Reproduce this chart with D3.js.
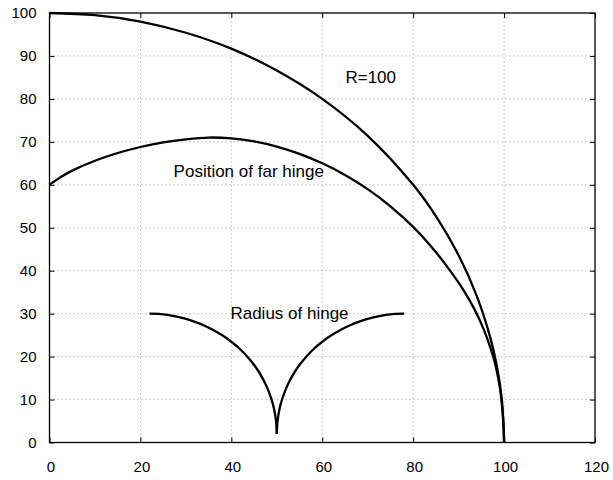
<!DOCTYPE html>
<html>
<head>
<meta charset="utf-8">
<script src="https://cdn.jsdelivr.net/npm/d3@7"></script>
<style>
  body { margin: 0; background: #fff; }
  svg { display: block; font-family: "Liberation Sans", Arial, sans-serif; }
  .tick-label { font-size: 15px; fill: #000; }
  .note { font-size: 17px; fill: #000; }
  .grid line { stroke: #9a9a9a; stroke-width: 1; stroke-dasharray: 1,3; }
  .curve { fill: none; stroke: #000; stroke-width: 2.3; stroke-linejoin: round; }
</style>
</head>
<body>
<div id="chart"></div>
<script>
var width = 613, height = 480
var margin = {left: 49.5, right: 18, top: 13, bottom: 37.5}

var xTicks = [0, 20, 40, 60, 80, 100, 120]
var yTicks = [0, 10, 20, 30, 40, 50, 60, 70, 80, 90, 100]

// outer circle, R=100
var circleX = [0, 10, 20, 30, 40, 50, 60, 70, 80, 85, 90, 94, 97, 98.5, 99.5, 100]
var circleY = [100, 99.5, 98.0, 95.4, 91.7, 86.6, 80.0, 71.4, 60.0, 52.7, 43.6, 34.1, 24.3, 17.3, 10.0, 0]

// position of far hinge
var farX = [0, 2.5, 5, 10, 15, 20, 25, 30, 35, 40, 45, 50, 55, 60, 65, 70, 75, 80, 84, 88, 91, 93.5, 95.5, 97, 98.2, 99.1, 99.6, 99.9, 100]
var farY = [60, 61.8, 63.3, 65.6, 67.4, 68.8, 69.9, 70.6, 71.0, 70.8, 70.1, 68.9, 67.2, 65.0, 62.3, 59.0, 55.0, 50.2, 45.6, 40.2, 35.6, 31.0, 26.4, 22.0, 17.6, 12.6, 8.0, 3.8, 0]

// radius of hinge, two arcs meeting at x=50
var hingeLeftX = [22, 24, 26, 28, 30, 32, 34, 36, 38, 40, 42, 44, 45.5, 46.8, 47.8, 48.6, 49.2, 49.6, 49.85, 50]
var hingeLeftY = [30, 29.93, 29.7, 29.3, 28.8, 28.1, 27.25, 26.2, 24.95, 23.45, 21.65, 19.4, 17.35, 15.1, 12.95, 10.8, 8.7, 6.7, 4.8, 2.0]
var hingeRightX = [50, 50.15, 50.4, 50.8, 51.4, 52.2, 53.2, 54.5, 56, 58, 60, 62, 64, 66, 68, 70, 72, 74, 76, 78]
var hingeRightY = [2.0, 4.8, 6.7, 8.7, 10.8, 12.95, 15.1, 17.35, 19.4, 21.65, 23.45, 24.95, 26.2, 27.25, 28.1, 28.8, 29.3, 29.7, 29.93, 30]

var notes = [
    {text: "R=100", x: 65.1, y: 83.6},
    {text: "Position of far hinge", x: 27.3, y: 61.7},
    {text: "Radius of hinge", x: 39.8, y: 28.8}
]

var svg = d3.select("#chart")
    .append("svg")
    .attr("width", width)
    .attr("height", height)

var xScale = d3.scaleLinear()
    .domain([0, 120])
    .range([margin.left, width - margin.right])
var yScale = d3.scaleLinear()
    .domain([0, 100])
    .range([height - margin.bottom, margin.top])

var x0 = xScale.range()[0], x1 = xScale.range()[1]
var y0 = yScale.range()[0], y1 = yScale.range()[1]

// dotted grid
var grid = svg.append("g").attr("class", "grid")
grid.selectAll(".gx")
    .data(xTicks.filter(d => d > 0 && d < 120))
    .enter()
    .append("line")
        .attr("x1", d => xScale(d)).attr("x2", d => xScale(d))
        .attr("y1", y0).attr("y2", y1)
grid.selectAll(".gy")
    .data(yTicks.filter(d => d > 0 && d < 100))
    .enter()
    .append("line")
        .attr("x1", x0).attr("x2", x1)
        .attr("y1", d => yScale(d)).attr("y2", d => yScale(d))

// axes with inner ticks on all four sides
var tickLen = 5
svg.append("g")
    .attr("transform", "translate(0," + y0 + ")")
    .call(d3.axisTop(xScale).tickValues(xTicks).tickSize(tickLen).tickFormat(""))
svg.append("g")
    .attr("transform", "translate(0," + y1 + ")")
    .call(d3.axisBottom(xScale).tickValues(xTicks).tickSize(tickLen).tickFormat(""))
svg.append("g")
    .attr("transform", "translate(" + x0 + ",0)")
    .call(d3.axisRight(yScale).tickValues(yTicks).tickSize(tickLen).tickFormat(""))
svg.append("g")
    .attr("transform", "translate(" + x1 + ",0)")
    .call(d3.axisLeft(yScale).tickValues(yTicks).tickSize(tickLen).tickFormat(""))
svg.selectAll(".domain").remove()
svg.selectAll(".tick line").attr("stroke", "#000").attr("stroke-width", 1)

svg.append("rect")
    .attr("x", x0).attr("y", y1)
    .attr("width", x1 - x0).attr("height", y0 - y1)
    .attr("fill", "none")
    .attr("stroke", "#000")
    .attr("stroke-width", 1.3)

// tick labels
svg.selectAll(".xl")
    .data(xTicks)
    .enter()
    .append("text")
        .attr("class", "tick-label")
        .attr("x", d => xScale(d) + 1.5)
        .attr("y", y0 + 29)
        .attr("text-anchor", "middle")
        .text(d => d)
svg.selectAll(".yl")
    .data(yTicks)
    .enter()
    .append("text")
        .attr("class", "tick-label")
        .attr("x", x0 - 13)
        .attr("y", d => yScale(d) + 5)
        .attr("text-anchor", "end")
        .text(d => d)

// curves
var line = d3.line()
    .x(d => xScale(d[0]))
    .y(d => yScale(d[1]))
    .curve(d3.curveCatmullRom.alpha(0.5))

function pairs(xs, ys) { return xs.map((x, i) => [x, ys[i]]) }

svg.append("path").attr("class", "curve").attr("d", line(pairs(circleX, circleY)))
svg.append("path").attr("class", "curve").attr("d", line(pairs(farX, farY)))
svg.append("path").attr("class", "curve").attr("d", line(pairs(hingeLeftX, hingeLeftY)))
svg.append("path").attr("class", "curve").attr("d", line(pairs(hingeRightX, hingeRightY)))

// annotations
svg.selectAll(".note")
    .data(notes)
    .enter()
    .append("text")
        .attr("class", "note")
        .attr("x", d => xScale(d.x))
        .attr("y", d => yScale(d.y))
        .text(d => d.text)
</script>
</body>
</html>
